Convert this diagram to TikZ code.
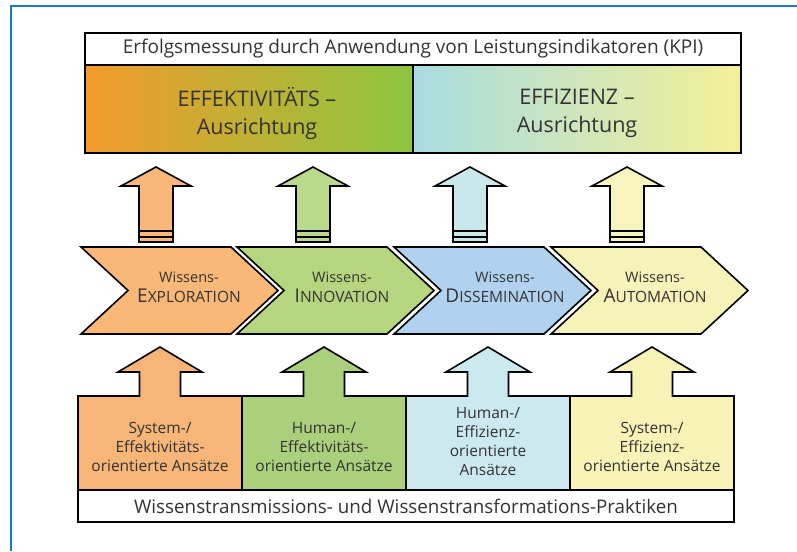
\documentclass[tikz,border=0pt]{standalone}
\usepackage{fontspec}
\setmainfont{Open Sans}
\usetikzlibrary{positioning, calc}

\newcommand{\kapit}[2]{{\fontsize{19}{21}\selectfont #1}{\fontsize{15.5}{21}\selectfont #2}}

\begin{document}
\begin{tikzpicture}[x=1pt, y=-1pt, line width=1.6pt, line join=miter, font=\fontsize{15.5}{19}\selectfont]
        % Define colors
        \definecolor{frameblue}{RGB}{26,125,181}
        \definecolor{txtgray}{RGB}{51,51,51}
        \definecolor{effor}{RGB}{243,154,43}
        \definecolor{effgr}{RGB}{140,198,63}
        \definecolor{effbl}{RGB}{168,220,224}
        \definecolor{effye}{RGB}{244,240,150}
        \definecolor{chevA}{RGB}{249,184,120}
        \definecolor{chevB}{RGB}{181,214,127}
        \definecolor{chevC}{RGB}{176,210,239}
        \definecolor{chevD}{RGB}{246,243,184}
        \definecolor{baseA}{RGB}{247,181,119}
        \definecolor{baseB}{RGB}{170,208,123}
        \definecolor{baseC}{RGB}{204,233,239}
        \definecolor{baseD}{RGB}{247,243,183}
        \definecolor{upA}{RGB}{249,183,122}
        \definecolor{upB}{RGB}{185,218,140}
        \definecolor{upC}{RGB}{200,232,236}
        \definecolor{upD}{RGB}{247,244,190}
        \tikzset{lbl/.style={text=txtgray, align=center, inner sep=0pt}}

        \useasboundingbox (0,0) rectangle (797,551);
        \draw[frameblue, line width=2.5pt] (11,551) -- (11,6) -- (797,6);

        % KPI bar
        \shade[left color=effor, right color=effgr] (85,65) rectangle (413,153);
        \shade[left color=effbl, right color=effye] (413,65) rectangle (741,153);
        \draw (85,33) rectangle (741,153);
        \draw (85,65) -- (741,65);
        \draw (413,65) -- (413,153);
        \node[lbl, font=\fontsize{19}{20}\selectfont] (kpi) at (413,49) {Erfolgsmessung durch Anwendung von Leistungsindikatoren (KPI)};
        \node[lbl, font=\fontsize{21.5}{28}\selectfont] (effekt) at (257,113) {EFFEKTIVITÄTS --\\Ausrichtung};
        \node[lbl, font=\fontsize{21.5}{28}\selectfont] (effiz) at (577,113) {EFFIZIENZ --\\Ausrichtung};

        % Arrows up to the KPI bar
        \foreach \cx/\col in {156/upA, 313/upB, 470/upC, 627/upD} {
            \filldraw[fill=\col] (\cx,167) -- (\cx+35,186) -- (\cx+17,186) -- (\cx+17,242) -- (\cx-17,242) -- (\cx-17,186) -- (\cx-35,186) -- cycle;
            \draw[line width=2pt] (\cx-17,231.3) -- (\cx+17,231.3);
            \draw[line width=2pt] (\cx-17,237) -- (\cx+17,237);
        }

        % Chevrons
        \foreach \sx/\col in {81/chevA, 237/chevB, 394/chevC, 551/chevD} {
            \filldraw[fill=\col] (\sx,247) -- (\sx+150,247) -- (\sx+197,290.5) -- (\sx+150,334) -- (\sx,334) -- (\sx+47,290.5) -- cycle;
        }
        \node[lbl, font=\fontsize{14.5}{19}\selectfont] (expl) at (189,287) {Wissens-\\[1pt]\kapit{E}{XPLORATION}};
        \node[lbl, font=\fontsize{14.5}{19}\selectfont] (inno) at (342,287) {Wissens-\\[1pt]\kapit{I}{NNOVATION}};
        \node[lbl, font=\fontsize{14.5}{19}\selectfont] (diss) at (505,287) {Wissens-\\[1pt]\kapit{D}{ISSEMINATION}};
        \node[lbl, font=\fontsize{14.5}{19}\selectfont] (auto) at (655,287) {Wissens-\\[1pt]\kapit{A}{UTOMATION}};

        % Approaches with arrows up to the chevrons
        \foreach \bx/\col in {78/baseA, 242/baseB, 406/baseC, 570/baseD} {
            \filldraw[fill=\col] (\bx,490) -- (\bx,396) -- (\bx+61.5,396) -- (\bx+61.5,372) -- (\bx+40,372) -- (\bx+82,347) -- (\bx+124,372) -- (\bx+102.5,372) -- (\bx+102.5,396) -- (\bx+164,396) -- (\bx+164,490) -- cycle;
        }
        \node[lbl] (sysEff) at (160,447) {System-/\\Effektivitäts-\\orientierte Ansätze};
        \node[lbl] (humEff) at (324,447) {Human-/\\Effektivitäts-\\orientierte Ansätze};
        \node[lbl] (humEfz) at (488,442) {Human-/\\Effizienz-\\orientierte\\Ansätze};
        \node[lbl] (sysEfz) at (652,447) {System-/\\Effizienz-\\orientierte Ansätze};

        % Practices
        \draw[fill=white] (78,490) rectangle (734,522);
        \node[lbl, font=\fontsize{18.8}{20}\selectfont] (prakt) at (406,506) {Wissenstransmissions- und Wissenstransformations-Praktiken};
    \end{tikzpicture}
\end{document}
